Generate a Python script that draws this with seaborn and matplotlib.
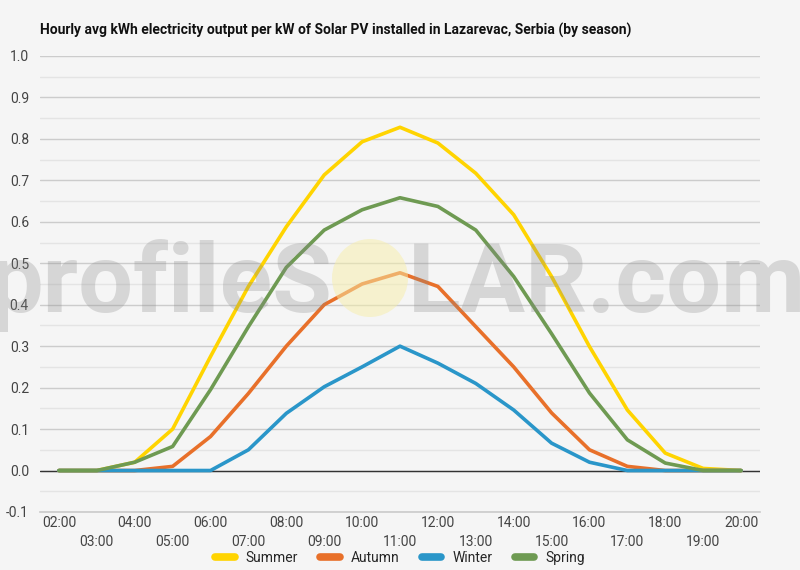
import numpy as np
import pandas as pd
import matplotlib
matplotlib.use('Agg')
import matplotlib.pyplot as plt
from matplotlib.patches import Ellipse
import seaborn as sns

# --- data (hourly averages, kWh per kW) ---
HOURS = list(range(2, 21))
HOUR_LABELS = [f"{h:02d}:00" for h in HOURS]
SEASONS = ['Summer', 'Autumn', 'Winter', 'Spring']

summer = [0.0, 0.0, 0.02, 0.10, 0.275, 0.444, 0.588, 0.713, 0.793, 0.828,
          0.79, 0.717, 0.617, 0.468, 0.299, 0.146, 0.042, 0.005, 0.0]
autumn = [0.0, 0.0, 0.0, 0.01, 0.082, 0.186, 0.30, 0.40, 0.45, 0.477,
          0.444, 0.347, 0.25, 0.139, 0.05, 0.01, 0.0, 0.0, 0.0]
winter = [0.0, 0.0, 0.0, 0.0, 0.0, 0.05, 0.138, 0.202, 0.25, 0.30,
          0.259, 0.21, 0.146, 0.066, 0.02, 0.0, 0.0, 0.0, 0.0]
spring = [0.0, 0.0, 0.02, 0.058, 0.195, 0.347, 0.49, 0.58, 0.629, 0.658,
          0.637, 0.58, 0.468, 0.33, 0.187, 0.074, 0.018, 0.0, 0.0]

COLORS = {'Summer': '#FFD400', 'Autumn': '#E8702A',
          'Winter': '#2A96C9', 'Spring': '#6E9A52'}

TITLE = 'Hourly avg kWh electricity output per kW of Solar PV installed in Lazarevac, Serbia (by season)'

df = pd.DataFrame({
    'hour': HOURS * 4,
    'kwh': summer + autumn + winter + spring,
    'season': np.repeat(SEASONS, len(HOURS)),
})

# --- style ---
BG = '#F5F5F5'
sns.set_theme(style='white')
plt.rcParams['font.family'] = ['Roboto', 'DejaVu Sans']

fig = plt.figure(figsize=(8, 5.7), dpi=100, facecolor=BG)
ax = fig.add_axes([0.05, 0.1018, 0.90, 0.80])
ax.set_facecolor(BG)

sns.lineplot(data=df, x='hour', y='kwh', hue='season', hue_order=SEASONS,
             palette=COLORS, linewidth=2.6, ax=ax, zorder=3)

ax.set_xlim(1.5, 20.5)
ax.set_ylim(-0.1, 1.0)
yt = np.arange(-0.1, 1.01, 0.1)
ax.set_yticks(yt)
ax.set_yticklabels([f"{v:.1f}" for v in yt])
ax.set_yticks(np.arange(-0.05, 1.0, 0.1), minor=True)

# even hours on first row, odd hours on second row
ax.set_xticks(HOURS[::2])
ax.set_xticklabels(HOUR_LABELS[::2])
ax.set_xticks(HOURS[1::2], minor=True)
ax.set_xticklabels(HOUR_LABELS[1::2], minor=True)

ax.tick_params(axis='x', which='major', length=0, pad=3, labelsize=10, labelcolor='#444444')
ax.tick_params(axis='x', which='minor', length=0, pad=16.5, labelsize=10, labelcolor='#444444')
ax.tick_params(axis='y', which='both', length=0, pad=8, labelsize=10, labelcolor='#444444')

ax.grid(axis='y', which='major', color='#CCCCCC', linewidth=1.0)
ax.grid(axis='y', which='minor', color='#E4E4E4', linewidth=1.0)
ax.grid(axis='x', visible=False)
ax.axhline(0, color='#333333', linewidth=1.0, zorder=2)
ax.set_axisbelow(True)
for side in ['top', 'right', 'left']:
    ax.spines[side].set_visible(False)
ax.spines['bottom'].set_color('#CCCCCC')
ax.set_xlabel('')
ax.set_ylabel('')

sns.move_legend(ax, 'center', bbox_to_anchor=(0.5, -0.101), ncol=4,
                frameon=False, title=None, fontsize=10, handlelength=1.4,
                columnspacing=1.6, handletextpad=0.8)
for line in ax.get_legend().get_lines():
    line.set_linewidth(5.5)

fig.text(0.05, 0.947, TITLE, fontsize=10, fontweight='bold', color='#111111',
         ha='left', va='center')

# watermark
fig.add_artist(Ellipse((0.4625, 1 - 278 / 570), 76 / 800, 78 / 570,
                       transform=fig.transFigure, facecolor='#F7EEA8',
                       edgecolor='none', alpha=0.5, zorder=4))
fig.text(333 / 800, 1 - 312 / 570, 'profileS', fontsize=70, fontweight='bold',
         color='#888888', alpha=0.28, ha='right', va='baseline', zorder=5)
fig.text(408 / 800, 1 - 312 / 570, 'LAR.com', fontsize=70, fontweight='bold',
         color='#888888', alpha=0.28, ha='left', va='baseline', zorder=5)

fig.savefig('out.png', dpi=100, facecolor=BG)
